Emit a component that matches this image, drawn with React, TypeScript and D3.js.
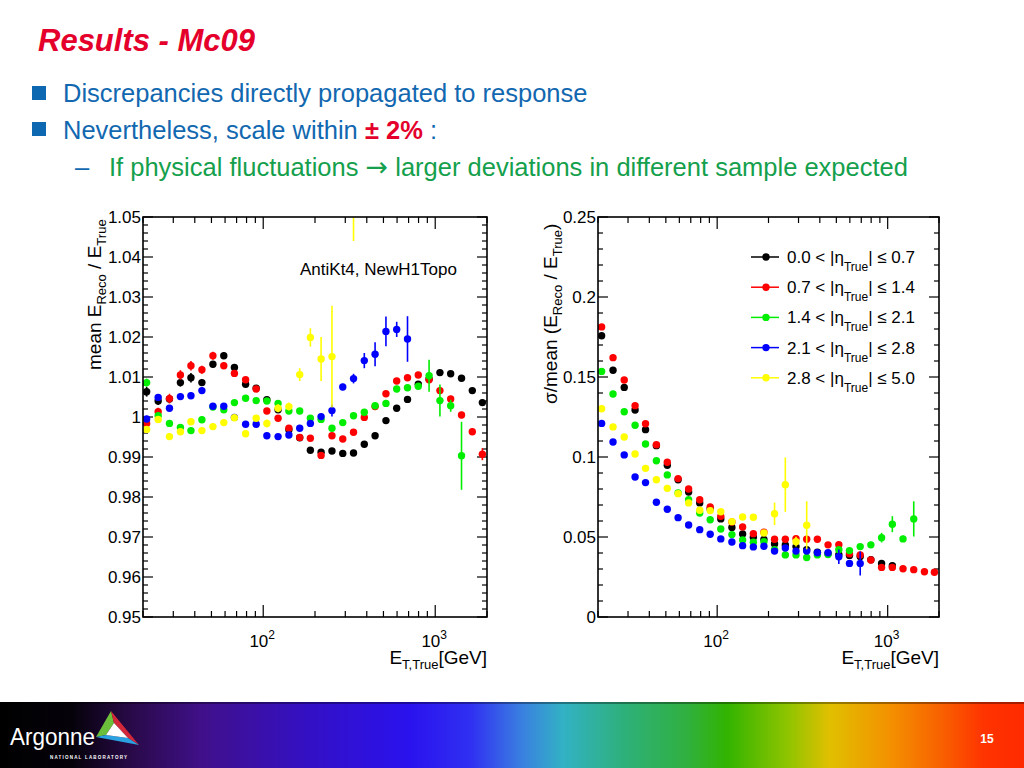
import React from 'react'
import * as d3 from 'd3'

const FONT = 'Liberation Sans, Arial, Helvetica, sans-serif'

// bin centres in E_T,True [GeV]
const energies = [21, 24.5, 28.5, 33, 38, 44, 51, 59, 68, 79, 91, 105, 122, 141, 163, 188,
  217, 251, 290, 335, 387, 447, 517, 597, 690, 797, 921, 1065, 1230, 1422, 1643, 1880]

const etaLabels = ['0.0', '0.7', '1.4', '2.1', '2.8', '5.0']
const seriesColors = ['#000000', '#ff0000', '#00ee00', '#0000ff', '#ffff00']

// left: mean E_Reco / E_True
const meanBlack = [1.0063, 1.0040, 1.0045, 1.0086, 1.0098, 1.0086, 1.0132, 1.0153, 1.0124, 1.0082, 1.0072, 1.0043, 1.0018, 0.9968, 0.9948, 0.9917,
  0.9912, 0.9915, 0.9909, 0.9910, 0.9932, 0.9953, 0.9991, 1.0022, 1.0044, 1.0082, 1.0095, 1.0111, 1.0108, 1.0097, 1.0066, 1.0036]
const meanRed = [0.9984, 1.0013, 1.0046, 1.0105, 1.0128, 1.0118, 1.0153, 1.0128, 1.0109, 1.0093, 1.0070, 1.0015, 0.9997, 0.9972, 0.9949, 0.9947,
  0.9904, 0.9953, 0.9945, 0.9962, 0.9999, 1.0026, 1.0058, 1.0090, 1.0098, 1.0105, 1.0093, 1.0066, 1.0045, 1.0005, 0.9963, 0.9907]
const meanGreen = [1.0086, 1.0003, 0.9984, 0.9974, 0.9966, 0.9993, 1.0025, 1.0018, 1.0036, 1.0047, 1.0041, 1.0040, 1.0034, 1.0015, 1.0015, 0.9997,
  0.9994, 0.9972, 0.9986, 1.0003, 1.0012, 1.0028, 1.0034, 1.0070, 1.0073, 1.0077, 1.0103, 1.0041, 1.0028, 0.9903, null, null]
const meanBlue = [0.9995, 1.0049, 1.0022, 1.0051, 1.0053, 1.0066, 1.0027, 1.0027, 0.9999, 0.9982, 0.9982, 0.9953, 0.9951, 0.9955, 0.9972, 0.9984,
  1.0001, 1.0016, 1.0075, 1.0096, 1.0141, 1.0157, 1.0214, 1.0219, 1.0195, null, null, null, null, null, null, null]
const meanYellow = [0.9969, 0.9994, 0.9951, 0.9963, 0.9988, 0.9966, 0.9976, 0.9986, 0.9998, 0.9958, 0.9997, 0.9984, 1.0022, 1.0026, 1.0106, 1.0199,
  1.0145, 1.0151, null, 1.0630, null, null, null, null, null, null, null, null, null, null, null, null]

const meanBlackErr = [0.0012, 0.001, 0.0008, 0.001, 0.0012, 0.0008, 0.0008, 0.0008, 0.0006, 0.0006, 0.0005, 0.0005, 0.0005, 0.0005, 0.0005, 0.0005,
  0.0005, 0.0005, 0.0005, 0.0005, 0.0005, 0.0005, 0.0005, 0.0005, 0.0005, 0.0005, 0.0005, 0.0005, 0.0005, 0.0006, 0.0006, 0.0008]
const meanRedErr = [0.001, 0.001, 0.0012, 0.0012, 0.0012, 0.001, 0.001, 0.0008, 0.0008, 0.0006, 0.0006, 0.0005, 0.0005, 0.0005, 0.0005, 0.0005,
  0.0005, 0.0005, 0.0005, 0.0005, 0.0005, 0.0005, 0.0005, 0.0005, 0.0005, 0.0005, 0.0005, 0.0006, 0.0006, 0.0008, 0.0008, 0.0015]
const meanGreenErr = [0.001, 0.0008, 0.0008, 0.0008, 0.0008, 0.0008, 0.0006, 0.0006, 0.0006, 0.0006, 0.0006, 0.0005, 0.0005, 0.0005, 0.0005, 0.0006,
  0.0006, 0.0006, 0.0006, 0.0006, 0.0006, 0.0008, 0.0008, 0.0008, 0.0008, 0.0008, 0.004, 0.004, 0.0015, 0.0085, 0, 0]
const meanBlueErr = [0.0008, 0.0008, 0.0008, 0.0008, 0.0008, 0.0008, 0.0006, 0.0006, 0.0006, 0.0006, 0.0006, 0.0005, 0.0005, 0.0005, 0.0005, 0.0006,
  0.0006, 0.0015, 0.0008, 0.0012, 0.0019, 0.003, 0.0037, 0.0019, 0.0057, 0, 0, 0, 0, 0, 0, 0]
const meanYellowErr = [0.0008, 0.0008, 0.0008, 0.0008, 0.0008, 0.0008, 0.0008, 0.0008, 0.0008, 0.0008, 0.0008, 0.001, 0.001, 0.001, 0.0016, 0.0023,
  0.0055, 0.0127, 0, 0.019, 0, 0, 0, 0, 0, 0, 0, 0, 0, 0, 0, 0]

// right: sigma / mean (E_Reco / E_True)
const resBlack = [0.1758, 0.1542, 0.1435, 0.1294, 0.1171, 0.1071, 0.0948, 0.0858, 0.0781, 0.0713, 0.0675, 0.0613, 0.0560, 0.0519, 0.0498, 0.0485,
  0.0456, 0.0450, 0.0440, 0.0420, 0.0405, 0.0395, 0.0390, 0.0385, 0.0378, 0.0358, 0.0335, 0.0321, null, null, null, null]
const resRed = [0.1813, 0.1621, 0.1481, 0.1321, 0.1208, 0.1077, 0.0967, 0.0865, 0.0800, 0.0733, 0.0688, 0.0629, 0.0594, 0.0563, 0.0521, 0.0530,
  0.0486, 0.0486, 0.0490, 0.0486, 0.0486, 0.0451, 0.0452, 0.0395, 0.0388, 0.0356, 0.0310, 0.0310, 0.0302, 0.0296, 0.0283, 0.0280]
const resGreen = [0.1535, 0.1394, 0.1283, 0.1198, 0.1081, 0.0977, 0.0888, 0.0775, 0.0733, 0.0650, 0.0608, 0.0550, 0.0515, 0.0481, 0.0467, 0.0470,
  0.0420, 0.0388, 0.0388, 0.0372, 0.0388, 0.0390, 0.0420, 0.0415, 0.0440, 0.0451, 0.0496, 0.0580, 0.0488, 0.0613, null, null]
const resBlue = [0.1210, 0.1094, 0.1013, 0.0875, 0.0840, 0.0717, 0.0673, 0.0621, 0.0575, 0.0546, 0.0517, 0.0488, 0.0469, 0.0446, 0.0438, 0.0442,
  0.0412, 0.0431, 0.0412, 0.0412, 0.0402, 0.0402, 0.0377, 0.0335, 0.0335, null, null, null, null, null, null, null]
const resYellow = [0.1302, 0.1188, 0.1125, 0.1019, 0.0929, 0.0858, 0.0804, 0.0771, 0.0713, 0.0667, 0.0665, 0.0658, 0.0596, 0.0625, 0.0623, 0.0525,
  0.0645, 0.0827, 0.0471, 0.0573, null, null, null, null, null, null, null, null, null, null, null, null]

const resBlackErr = energies.map(() => 0.0006)
const resRedErr = energies.map(() => 0.0006)
const resGreenErr = [0.0006, 0.0006, 0.0006, 0.0006, 0.0006, 0.0006, 0.0006, 0.0006, 0.0006, 0.0006, 0.0006, 0.0006, 0.0006, 0.0006, 0.0006, 0.0006,
  0.0006, 0.0006, 0.0006, 0.0006, 0.0006, 0.0006, 0.0006, 0.0006, 0.0008, 0.002, 0.003, 0.005, 0.002, 0.011, 0, 0]
const resBlueErr = [0.0006, 0.0006, 0.0006, 0.0006, 0.0006, 0.0006, 0.0006, 0.0006, 0.0006, 0.0006, 0.0006, 0.0006, 0.0006, 0.0006, 0.0006, 0.0006,
  0.0006, 0.0006, 0.0006, 0.0006, 0.0008, 0.0008, 0.0045, 0.002, 0.0075, 0, 0, 0, 0, 0, 0, 0]
const resYellowErr = [0.0006, 0.0006, 0.0006, 0.0006, 0.0006, 0.0006, 0.0006, 0.0006, 0.0006, 0.0006, 0.0006, 0.0006, 0.0008, 0.0008, 0.0008, 0.001,
  0.007, 0.017, 0.003, 0.015, 0, 0, 0, 0, 0, 0, 0, 0, 0, 0, 0, 0]

const meanSeries = [meanBlack, meanRed, meanGreen, meanBlue, meanYellow]
const meanErrors = [meanBlackErr, meanRedErr, meanGreenErr, meanBlueErr, meanYellowErr]
const resSeries = [resBlack, resRed, resGreen, resBlue, resYellow]
const resErrors = [resBlackErr, resRedErr, resGreenErr, resBlueErr, resYellowErr]

// footer rainbow
const footerStops = [
  [0, '#000000'], [0.07, '#05020a'], [0.13, '#2a0a4a'], [0.2, '#40108c'], [0.3, '#3410c4'], [0.4, '#2a12ee'],
  [0.46, '#3030f2'], [0.51, '#3a80e0'], [0.55, '#32b2c4'], [0.61, '#2eb07a'], [0.67, '#30b040'], [0.71, '#32b400'],
  [0.77, '#90c400'], [0.81, '#e0c000'], [0.87, '#f49000'], [0.92, '#f86000'], [0.96, '#ff3400'], [1, '#ff2a00'],
] as const

const TOP = 217
const BOTTOM = 617

function Panel({ id, x0, x1, yDomain, yMajor, yMinor, values, errors, fmt }: {
  id: string, x0: number, x1: number, yDomain: [number, number], yMajor: number, yMinor: number,
  values: (number | null)[][], errors: number[][], fmt: (d: number) => string
}) {
  const x = d3.scaleLog().domain([20, 2000]).range([x0, x1])
  const y = d3.scaleLinear().domain(yDomain).range([BOTTOM, TOP])
  const xt = x.ticks()
  const majorY = y.ticks(yMajor)
  const minorY = y.ticks(yMinor)
  const isMajorX = (d: number) => Math.abs(Math.log10(d) - Math.round(Math.log10(d))) < 1e-9
  const isMajorY = (d: number) => majorY.some(m => Math.abs(m - d) < 1e-9)
  return (
    <g>
      <defs>
        <clipPath id={id}><rect x={x0} y={TOP} width={x1 - x0} height={BOTTOM - TOP} /></clipPath>
      </defs>
      {/* x ticks bottom and top */}
      {xt.map((d, i) => {
        const len = isMajorX(d) ? 12 : 6
        return (
          <g key={'xt' + i} stroke="#000" strokeWidth={1.2}>
            <line x1={x(d)} x2={x(d)} y1={BOTTOM} y2={BOTTOM - len} />
            <line x1={x(d)} x2={x(d)} y1={TOP} y2={TOP + len} />
          </g>
        )
      })}
      {minorY.map((d, i) => {
        const len = isMajorY(d) ? 10 : 5
        return (
          <g key={'yt' + i} stroke="#000" strokeWidth={1.2}>
            <line x1={x0} x2={x0 + len} y1={y(d)} y2={y(d)} />
            <line x1={x1} x2={x1 - len} y1={y(d)} y2={y(d)} />
          </g>
        )
      })}
      {xt.filter(isMajorX).map((d, i) => (
        <text key={'xl' + i} x={x(d) - 1} y={647} textAnchor="middle" fontSize={17} fontFamily={FONT}>
          10<tspan fontSize={12} dy={-8}>{Math.round(Math.log10(d))}</tspan>
        </text>
      ))}
      {majorY.map((d, i) => (
        <text key={'yl' + i} x={x0 - 2} y={y(d) + 6} textAnchor="end" fontSize={17} fontFamily={FONT}>{fmt(d)}</text>
      ))}
      <g clipPath={`url(#${id})`}>
        {values.map((vals, s) => (
          <g key={'s' + s}>
            {vals.map((v, i) => v == null || errors[s][i] <= 0 ? null : (
              <line key={'e' + i} x1={x(energies[i])} x2={x(energies[i])}
                y1={y(v - errors[s][i])} y2={y(v + errors[s][i])}
                stroke={seriesColors[s]} strokeWidth={1.6} />
            ))}
            {vals.map((v, i) => v == null ? null : (
              <circle key={'p' + i} cx={x(energies[i])} cy={y(v)} r={3.7} fill={seriesColors[s]} />
            ))}
          </g>
        ))}
      </g>
      <rect x={x0} y={TOP} width={x1 - x0} height={BOTTOM - TOP} fill="none" stroke="#000" strokeWidth={1.6} />
      <text x={x1} y={664} textAnchor="end" fontFamily={FONT} fontSize={19}>
        E<tspan fontSize={13} dy={5}>T,True</tspan><tspan dy={-5}>[GeV]</tspan>
      </text>
    </g>
  )
}

export default function App() {
  const fmt = (d: number) => String(+d.toFixed(2))
  return (
    <svg width={1024} height={768} viewBox="0 0 1024 768"
      style={{ position: 'absolute', left: 0, top: 0, background: '#fff' }}>
      <defs>
        <linearGradient id="footer" x1="0" x2="1" y1="0" y2="0">
          {footerStops.map(([o, c], i) => <stop key={i} offset={o} stopColor={c} />)}
        </linearGradient>
      </defs>

      {/* slide text */}
      <text x={38} y={51} fontFamily={FONT} fontSize={31} fontWeight="bold" fontStyle="italic" fill="#e4002b">Results - Mc09</text>
      <rect x={32} y={86} width={14} height={14} fill="#0d68b1" />
      <text x={63} y={102} fontFamily={FONT} fontSize={25.5} fill="#1268b0">Discrepancies directly propagated to response</text>
      <rect x={32} y={122} width={14} height={14} fill="#0d68b1" />
      <text x={63} y={139} fontFamily={FONT} fontSize={25.5} fill="#1268b0">
        Nevertheless, scale within <tspan fill="#e4002b" fontWeight="bold">± 2%</tspan> :
      </text>
      <text x={75} y={176} fontFamily={FONT} fontSize={25.5} fill="#1268b0">–</text>
      <text x={109} y={176} fontFamily={FONT} fontSize={25.5} fill="#14a04c">
        If physical fluctuations <tspan fontFamily="DejaVu Sans" fontSize={27}>→</tspan> larger deviations in different sample expected
      </text>

      {/* left panel */}
      <Panel id="clipL" x0={143} x1={487} yDomain={[0.95, 1.05]} yMajor={10} yMinor={50}
        values={meanSeries} errors={meanErrors} fmt={fmt} />
      <text transform="translate(101,370) rotate(-90)" fontFamily={FONT} fontSize={19}>
        mean E<tspan fontSize={13} dy={5}>Reco</tspan><tspan dy={-5}> / E</tspan><tspan fontSize={13} dy={5}>True</tspan>
      </text>
      <text x={300} y={275} fontFamily={FONT} fontSize={17}>AntiKt4, NewH1Topo</text>

      {/* right panel */}
      <Panel id="clipR" x0={598} x1={939} yDomain={[0, 0.25]} yMajor={5} yMinor={25}
        values={resSeries} errors={resErrors} fmt={fmt} />
      <text transform="translate(557,404) rotate(-90)" fontFamily={FONT} fontSize={19}>
        σ/mean (E<tspan fontSize={13} dy={5}>Reco</tspan><tspan dy={-5}> / E</tspan><tspan fontSize={13} dy={5}>True</tspan><tspan dy={-5}>)</tspan>
      </text>
      {seriesColors.map((c, i) => {
        const ly = 257 + i * 30.2
        return (
          <g key={'lg' + i}>
            <line x1={751} x2={779} y1={ly} y2={ly} stroke={c} strokeWidth={1.5} />
            <circle cx={766} cy={ly} r={3.7} fill={c} />
            <text x={787} y={ly + 6} fontFamily={FONT} fontSize={17}>
              {etaLabels[i]} &lt; |η<tspan fontSize={12} dy={8}>True</tspan><tspan dy={-8}>| ≤ {etaLabels[i + 1]}</tspan>
            </text>
          </g>
        )
      })}

      {/* footer */}
      <rect x={0} y={702} width={1024} height={66} fill="url(#footer)" />
      <rect x={0} y={702} width={1024} height={2} fill="#000" opacity={0.35} />
      <text x={10} y={745} fontFamily={FONT} fontSize={23} fill="#fff" textLength={85} lengthAdjust="spacingAndGlyphs">Argonne</text>
      <text x={50} y={759} fontFamily={FONT} fontSize={4.5} fontWeight="bold" fill="#fff" textLength={77} lengthAdjust="spacing">NATIONAL LABORATORY</text>
      {/* logo: outer triangle split into three coloured bands round a white centre */}
      <polygon points="111,711 96,737 106,735 114,723" fill="#6cbf3a" />
      <polygon points="111,711 139,745 128,738 114,723" fill="#d3283a" />
      <polygon points="96,737 139,745 128,738 106,735" fill="#2aa2e2" />
      <polygon points="114,723 106,735 128,738" fill="#ffffff" />
      <text x={987} y={743} textAnchor="middle" fontFamily={FONT} fontSize={12} fontWeight="bold" fill="#fff">15</text>
    </svg>
  )
}
